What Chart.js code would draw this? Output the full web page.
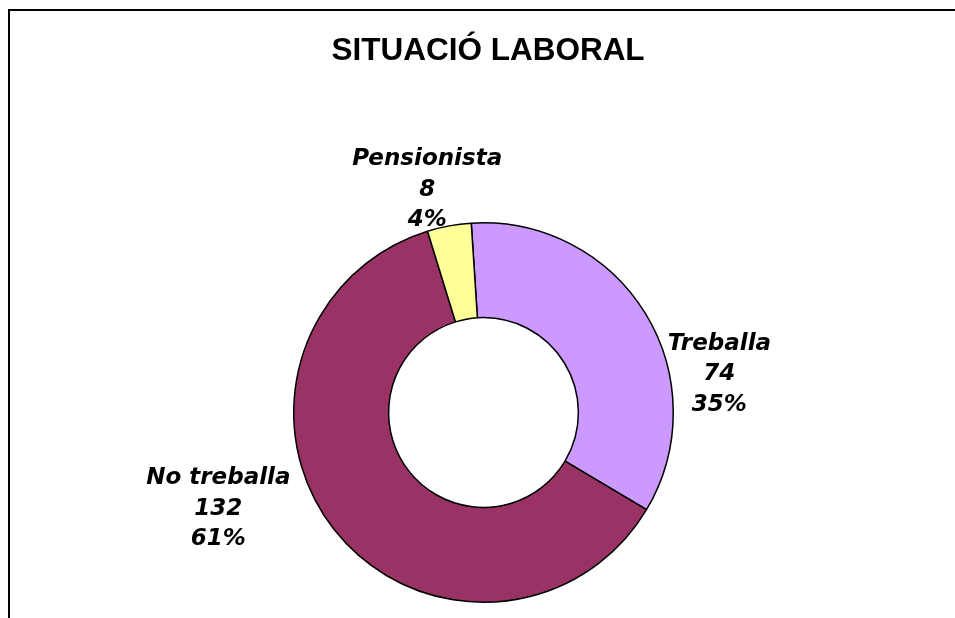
<!DOCTYPE html>
<html>
<head>
<meta charset="utf-8">
<script src="https://cdn.jsdelivr.net/npm/chart.js@4"></script>
<style>
  html, body { margin: 0; padding: 0; background: #fff; }
  #wrap { width: 955px; height: 618px; position: relative; }
</style>
</head>
<body>
<div id="wrap"><canvas id="myChart" width="955" height="618"></canvas></div>
<script>
let categories = ['Treballa', 'No treballa', 'Pensionista'];
let values = [74, 132, 8];
let percents = ['35%', '61%', '4%'];
let colors = ['#CC99FF', '#993366', '#FFFF99'];
let title = 'SITUACIÓ LABORAL';

// label block offset from the outer middle point of each slice
let labelOffsets = [[74, 61], [-116, -21], [-22, -36]];

const framePlugin = {
    id: 'frame',
    beforeDraw(chart) {
        const c = chart.ctx;
        c.save();
        c.fillStyle = '#fff';
        c.fillRect(0, 0, chart.width, chart.height);
        c.fillStyle = '#000';
        c.fillRect(8, 9, chart.width - 8, 2);
        c.fillRect(8, 9, 2, chart.height - 9);
        c.font = 'bold 31.5px "Liberation Sans", Arial, sans-serif';
        c.textAlign = 'center';
        c.textBaseline = 'alphabetic';
        c.fillText(title, 488, 60);
        c.restore();
    }
};

const labelPlugin = {
    id: 'sliceLabels',
    afterDatasetsDraw(chart) {
        const c = chart.ctx;
        const meta = chart.getDatasetMeta(0);
        c.save();
        c.fillStyle = '#000';
        c.font = 'italic bold 23px "DejaVu Sans", Verdana, sans-serif';
        c.textAlign = 'center';
        c.textBaseline = 'middle';
        meta.data.forEach((arc, i) => {
            const p = arc.getProps(['x', 'y', 'startAngle', 'endAngle', 'outerRadius'], true);
            const mid = (p.startAngle + p.endAngle) / 2;
            const ox = p.x + Math.cos(mid) * p.outerRadius;
            const oy = p.y + Math.sin(mid) * p.outerRadius;
            const cx = ox + labelOffsets[i][0];
            const cy = oy + labelOffsets[i][1];
            const lines = [categories[i], String(values[i]), percents[i]];
            lines.forEach((t, j) => {
                c.fillText(t, cx, cy + (j - 1) * 30.5);
            });
        });
        c.restore();
    }
};

const ctx = document.getElementById('myChart').getContext('2d');
const myChart = new Chart(ctx, {
    type: 'doughnut',
    data: {
        labels: categories,
        datasets: [{
            data: values,
            backgroundColor: colors,
            borderColor: '#000',
            borderWidth: 1.5
        }]
    },
    options: {
        responsive: false,
        animation: false,
        rotation: -3.7,
        cutout: '50%',
        layout: {
            padding: { left: 293, right: 281, top: 222, bottom: 15 }
        },
        plugins: {
            legend: { display: false },
            title: { display: false },
            tooltip: { enabled: false }
        }
    },
    plugins: [framePlugin, labelPlugin]
});
</script>
</body>
</html>
